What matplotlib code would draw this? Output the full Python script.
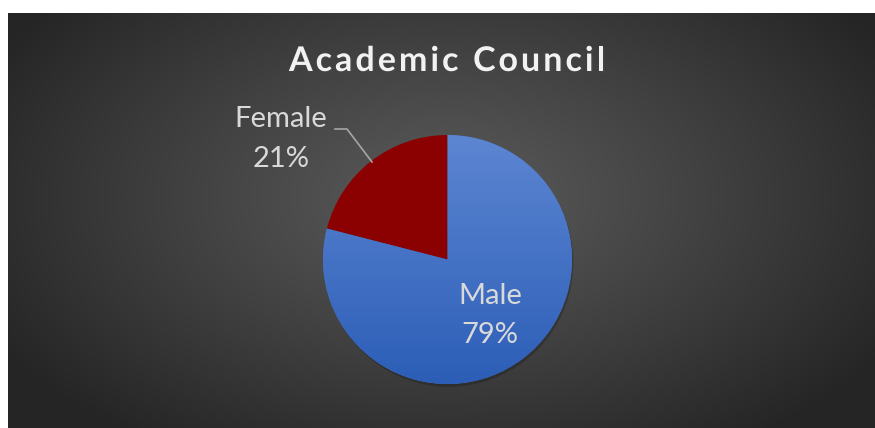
import numpy as np
import matplotlib.pyplot as plt
import matplotlib.patheffects as pe

labels = ["Male", "Female"]
shares = [79, 21]
title = "Academic Council"

W, H = 875, 428
fig = plt.figure(figsize=(W / 100, H / 100), dpi=100, facecolor="white")
ax = fig.add_axes([0, 0, 1, 1])

# dark radial backdrop
x0, x1, y0, y1 = 8, W, 0, H - 13
gx, gy = np.meshgrid(np.linspace(x0, x1, 600), np.linspace(y1, y0, 300))
d = np.sqrt(((gx - 445) / 520) ** 2 + ((gy - 230) / 300) ** 2)
d = np.clip(d, 0, 1)
inner, outer = 0x5a / 255, 0x25 / 255
v = inner + (outer - inner) * d ** 1.1
ax.imshow(np.dstack([v, v, v]), extent=[x0, x1, y0, y1], origin="upper",
          interpolation="bilinear", zorder=0)

cx, cy, r = 447.5, H - 259.5, 124.5
wedges, _ = ax.pie(shares, startangle=90, counterclock=False, center=(cx, cy),
                   radius=r, colors=["#4471c4", "#8b0000"],
                   wedgeprops=dict(linewidth=0), frame=True)
ax.set_xlim(0, W)
ax.set_ylim(0, H)
ax.set_aspect("equal")
ax.axis("off")
for w in wedges:
    w.set_zorder(2)
    w.set_path_effects([pe.SimplePatchShadow(offset=(1, -2), alpha=0.2, shadow_rgbFace="black"),
                        pe.Normal()])

# vertical blue shading on the male slice
grad = np.linspace(0, 1, 256)[:, None]
top = np.array([0x5d, 0x86, 0xd2]) / 255
bot = np.array([0x2c, 0x5e, 0xb7]) / 255
img = top + (bot - top) * grad[..., None]
img = np.repeat(img, 2, axis=1)
im = ax.imshow(img, extent=[cx - r, cx + r, cy - r, cy + r], origin="upper",
               interpolation="bilinear", zorder=3)
im.set_clip_path(wedges[0])

txt = "#d9d9d9"
lab = dict(ha="center", va="center", color=txt, fontsize=21, family="Lato",
           linespacing=1.62, zorder=5)
ax.text(490, H - 315.5, f"{labels[0]}\n{shares[0]}%", **lab)
ax.text(281, H - 139, f"{labels[1]}\n{shares[1]}%", **lab)
ax.plot([335, 347, 372], [H - 129, H - 129, H - 162], color="#a6a6a6", lw=1.2, zorder=4)

# spaced-out bold title, laid out one letter at a time
tkw = dict(color="#f2f2f2", fontsize=24.5, fontweight="bold", family="Lato",
           va="baseline", ha="left", zorder=5,
           path_effects=[pe.withSimplePatchShadow(offset=(1.5, -1.5), alpha=0.45)])
renderer = fig.canvas.get_renderer()
widths = []
for ch in title:
    t = ax.text(0, 0, ch if ch != " " else "i", **tkw)
    widths.append(t.get_window_extent(renderer).width)
    t.remove()
span = 316
gap = (span - sum(widths)) / (len(title) - 1)
xpos = 447 - span / 2
for ch, wd in zip(title, widths):
    if ch != " ":
        ax.text(xpos, H - 71, ch, **tkw)
    xpos += wd + gap

fig.savefig("out.png", dpi=100, facecolor="white")
